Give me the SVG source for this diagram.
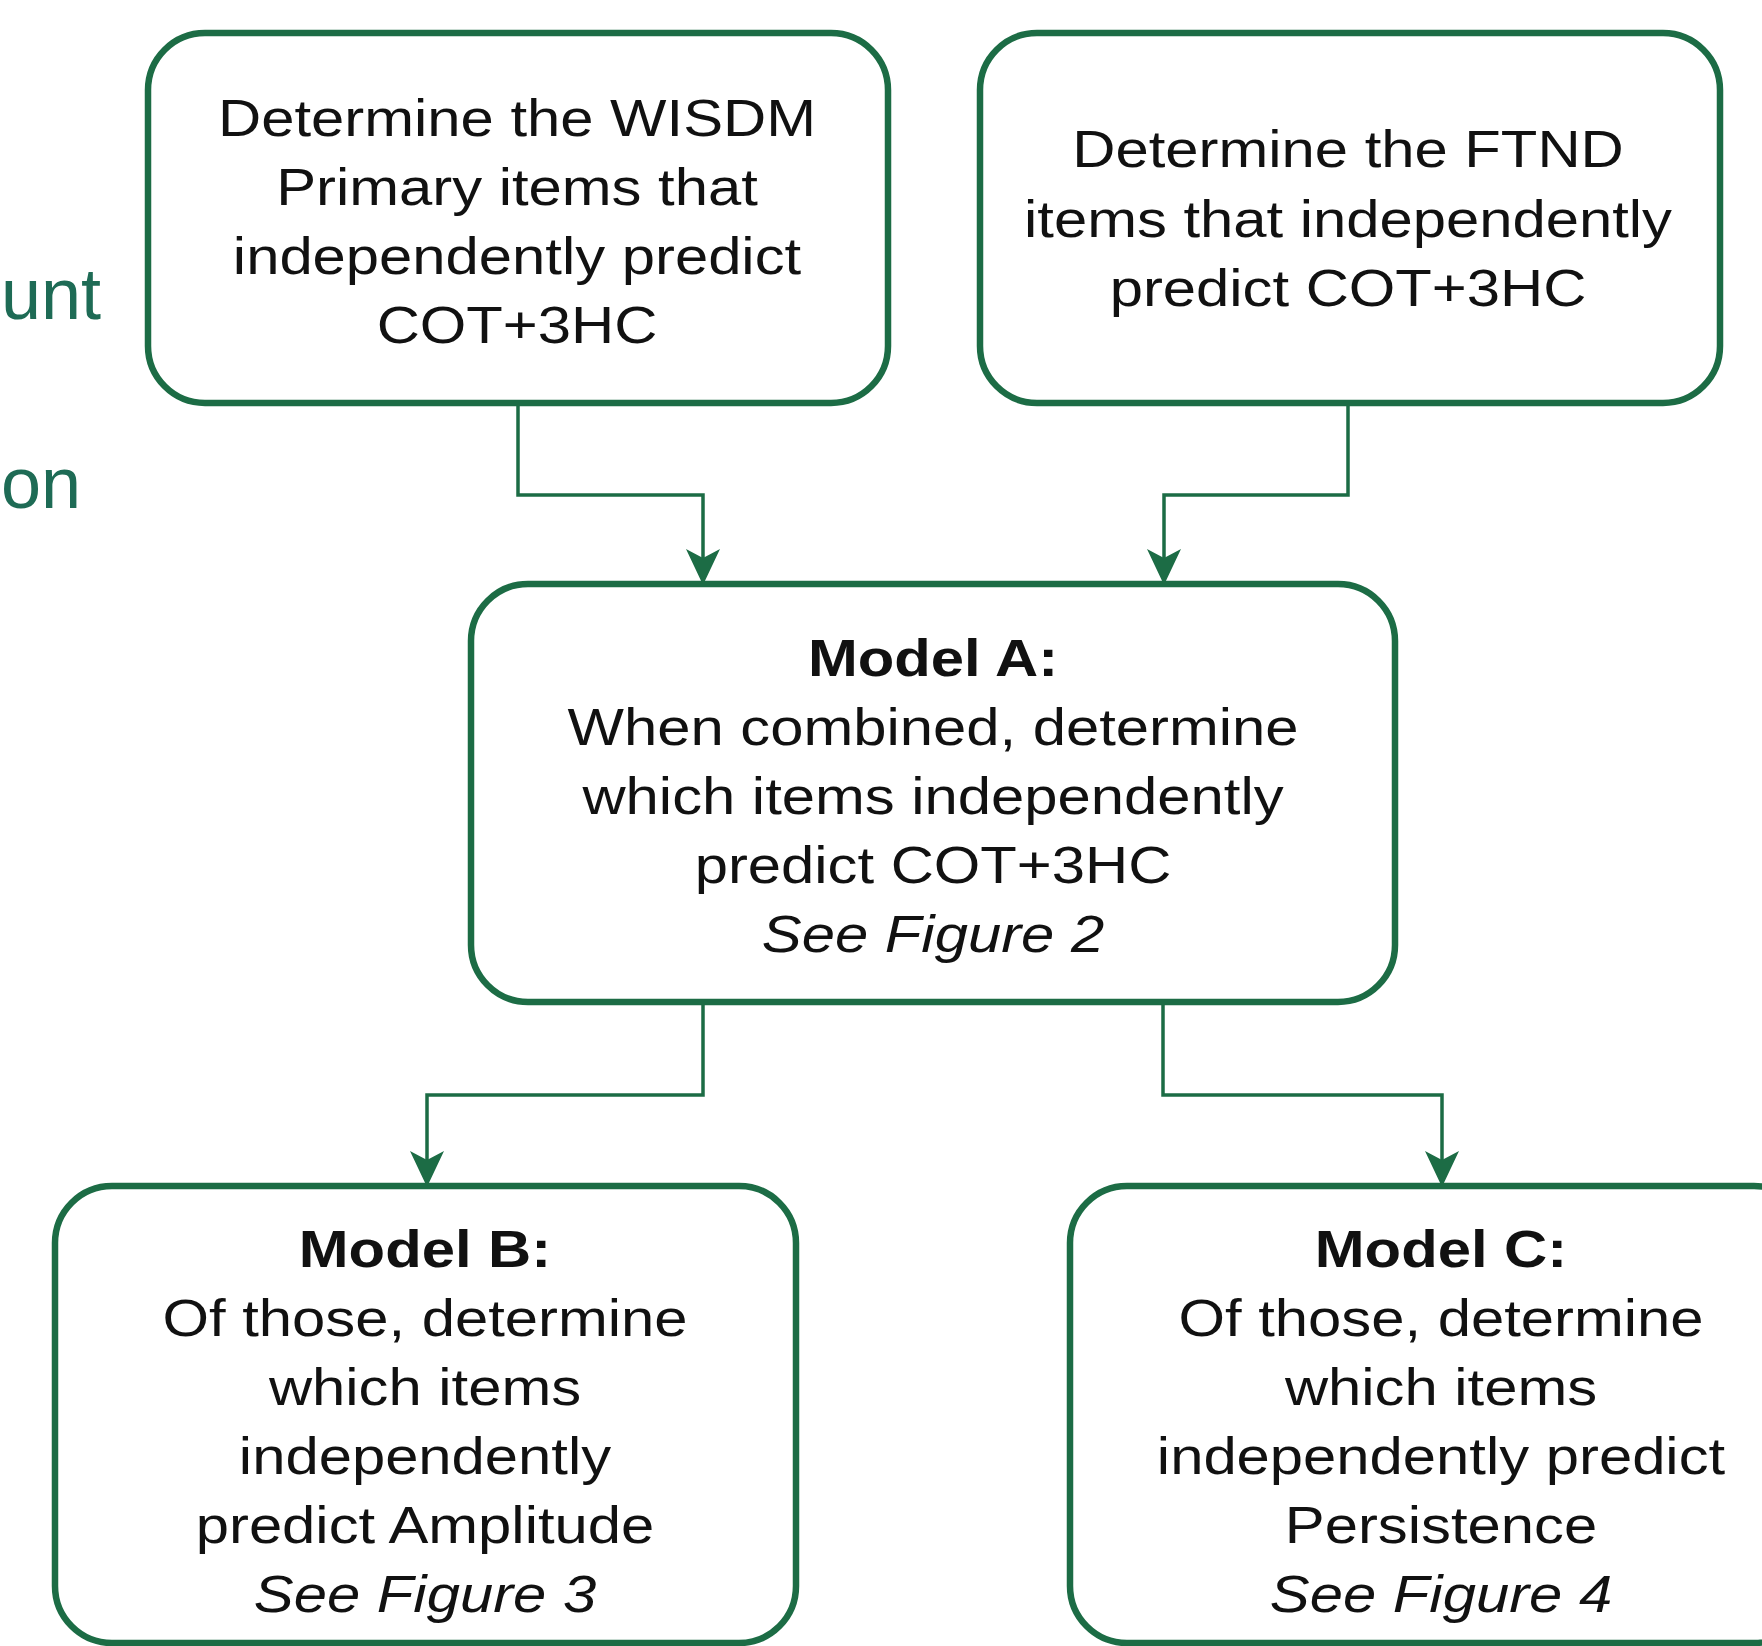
<svg xmlns="http://www.w3.org/2000/svg" width="1762" height="1646" viewBox="0 0 1762 1646">
<defs>
<style>
.box{fill:#ffffff;stroke:#1c6c45;stroke-width:6.5}
.con{fill:none;stroke:#1c6c45;stroke-width:3.5}
.t{font-family:"Liberation Sans",Arial,Helvetica,sans-serif;font-size:52px;fill:#111111;text-anchor:middle}
.b{font-weight:bold}
.i{font-style:italic}
.side{font-family:"Liberation Sans",Arial,Helvetica,sans-serif;font-size:72px;fill:#1e6b55;text-anchor:start}
</style>
<marker id="arr" viewBox="0 0 36 36" refX="35" refY="18" markerWidth="36" markerHeight="36" markerUnits="userSpaceOnUse" orient="auto">
<path d="M0,1 L36,18 L0,35 L9,18 Z" fill="#1c6c45"/>
</marker>
</defs>
<rect x="0" y="0" width="1762" height="1646" fill="#ffffff"/>
<g id="side-text">
<text class="side" x="1" y="319">unt</text>
<text class="side" x="1" y="508">on</text>
</g>
<g id="connectors">
<path class="con" d="M518,405 V495 H703 V584" marker-end="url(#arr)"/>
<path class="con" d="M1348,405 V495 H1164 V584" marker-end="url(#arr)"/>
<path class="con" d="M703,1002 V1095 H427 V1186" marker-end="url(#arr)"/>
<path class="con" d="M1163,1002 V1095 H1442 V1186" marker-end="url(#arr)"/>
</g>
<g id="node-wisdm">
<rect class="box" x="148" y="33" width="740" height="370" rx="57" ry="57"/>
<text class="t" transform="translate(517 0) scale(1.15 1)"><tspan x="0" y="136">Determine the WISDM</tspan><tspan x="0" y="205">Primary items that</tspan><tspan x="0" y="274">independently predict</tspan><tspan x="0" y="343">COT+3HC</tspan></text>
</g>
<g id="node-ftnd">
<rect class="box" x="980" y="33" width="740" height="370" rx="57" ry="57"/>
<text class="t" transform="translate(1348 0) scale(1.15 1)"><tspan x="0" y="167">Determine the FTND</tspan><tspan x="0" y="237">items that independently</tspan><tspan x="0" y="306">predict COT+3HC</tspan></text>
</g>
<g id="node-model-a">
<rect class="box" x="471" y="584" width="924" height="418" rx="57" ry="57"/>
<text class="t" transform="translate(933 0) scale(1.15 1)"><tspan class="b" x="0" y="676">Model A:</tspan><tspan x="0" y="745">When combined, determine</tspan><tspan x="0" y="814">which items independently</tspan><tspan x="0" y="883">predict COT+3HC</tspan><tspan class="i" x="0" y="952">See Figure 2</tspan></text>
</g>
<g id="node-model-b">
<rect class="box" x="55" y="1186" width="741" height="457" rx="57" ry="57"/>
<text class="t" transform="translate(425 0) scale(1.15 1)"><tspan class="b" x="0" y="1267">Model B:</tspan><tspan x="0" y="1336">Of those, determine</tspan><tspan x="0" y="1405">which items</tspan><tspan x="0" y="1474">independently</tspan><tspan x="0" y="1543">predict Amplitude</tspan><tspan class="i" x="0" y="1612">See Figure 3</tspan></text>
</g>
<g id="node-model-c">
<rect class="box" x="1070" y="1186" width="741" height="457" rx="57" ry="57"/>
<text class="t" transform="translate(1441 0) scale(1.15 1)"><tspan class="b" x="0" y="1267">Model C:</tspan><tspan x="0" y="1336">Of those, determine</tspan><tspan x="0" y="1405">which items</tspan><tspan x="0" y="1474">independently predict</tspan><tspan x="0" y="1543">Persistence</tspan><tspan class="i" x="0" y="1612">See Figure 4</tspan></text>
</g>
</svg>
